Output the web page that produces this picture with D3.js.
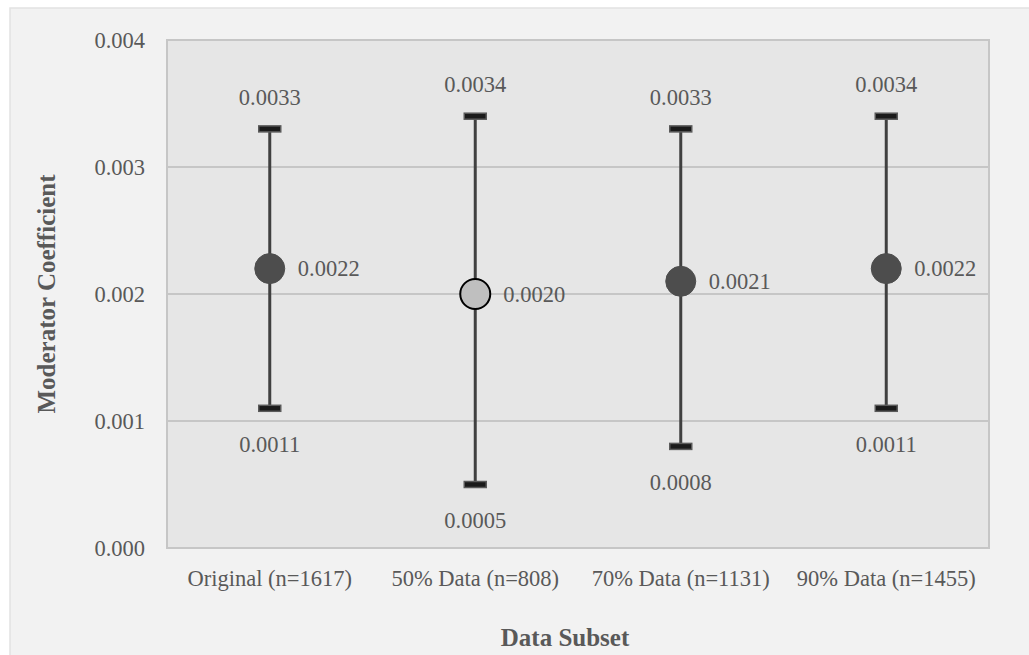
<!DOCTYPE html>
<html>
<head>
<meta charset="utf-8">
<script src="https://cdn.jsdelivr.net/npm/d3@7"></script>
<style>
  html, body { margin: 0; padding: 0; background: #ffffff; overflow: hidden; }
  svg { display: block; }
  text { font-family: "Liberation Serif", "DejaVu Serif", serif; }
</style>
</head>
<body>
<svg id="chart" width="1029" height="655"></svg>
<script>
// Moderator coefficient estimates with confidence bounds per data subset
const categories = ["Original (n=1617)", "50% Data (n=808)", "70% Data (n=1131)", "90% Data (n=1455)"];
const estimates  = [0.0022, 0.0020, 0.0021, 0.0022];
const upperBound = [0.0033, 0.0034, 0.0033, 0.0034];
const lowerBound = [0.0011, 0.0005, 0.0008, 0.0011];
const yTicks     = [0.000, 0.001, 0.002, 0.003, 0.004];
const highlighted = [false, true, false, false];

const svg = d3.select("#chart");
const W = 1029, H = 655;
const plot = { left: 167, top: 40, right: 989, bottom: 548 };
const textColor = "#595959";
const labelSize = 22.5;

// outer panel (runs past the right and bottom edges)
svg.append("rect").attr("x", 10).attr("y", 8).attr("width", W + 20).attr("height", H + 20)
  .attr("fill", "#f2f2f2").attr("stroke", "#e2e2e2").attr("stroke-width", 1.5);

const x = d3.scaleBand().domain(categories).range([plot.left, plot.right]).padding(0);
const y = d3.scaleLinear().domain([0, 0.004]).range([plot.bottom, plot.top]);

// plot background
svg.append("rect")
  .attr("x", plot.left).attr("y", plot.top)
  .attr("width", plot.right - plot.left).attr("height", plot.bottom - plot.top)
  .attr("fill", "#e6e6e6");

// gridlines
svg.append("g").selectAll("line").data(yTicks.slice(1, -1)).join("line")
  .attr("x1", plot.left).attr("x2", plot.right)
  .attr("y1", d => y(d)).attr("y2", d => y(d))
  .attr("stroke", "#c6c6c6").attr("stroke-width", 2);

// plot border
svg.append("rect")
  .attr("x", plot.left).attr("y", plot.top)
  .attr("width", plot.right - plot.left).attr("height", plot.bottom - plot.top)
  .attr("fill", "none").attr("stroke", "#c6c6c6").attr("stroke-width", 2);

// y axis
const yAxis = d3.axisLeft(y).tickValues(yTicks).tickFormat(d3.format(".3f")).tickSize(0).tickPadding(22);
const gy = svg.append("g").attr("transform", `translate(${plot.left},0)`).call(yAxis);
gy.select(".domain").remove();
gy.selectAll("text").attr("font-size", labelSize).attr("fill", textColor)
  .attr("font-family", "Liberation Serif, serif");

// x axis
const xAxis = d3.axisBottom(x).tickSize(0).tickPadding(22);
const gx = svg.append("g").attr("transform", `translate(0,${plot.bottom})`).call(xAxis);
gx.select(".domain").remove();
gx.selectAll("text").attr("font-size", labelSize).attr("fill", textColor)
  .attr("font-family", "Liberation Serif, serif");

// axis titles
svg.append("text")
  .attr("x", 565).attr("y", 646)
  .attr("text-anchor", "middle").attr("font-size", 25).attr("font-weight", "bold")
  .attr("fill", textColor).text("Data Subset");

svg.append("text")
  .attr("transform", `translate(55,${(plot.top + plot.bottom) / 2}) rotate(-90)`)
  .attr("text-anchor", "middle").attr("font-size", 25).attr("font-weight", "bold")
  .attr("fill", textColor).text("Moderator Coefficient");

const rows = categories.map((c, i) => ({
  c, est: estimates[i], hi: upperBound[i], lo: lowerBound[i], hl: highlighted[i]
}));
const cx = d => x(d.c) + x.bandwidth() / 2;
const fmt = d3.format(".4f");

const g = svg.append("g");

// error bar stems
g.selectAll(".stem").data(rows).join("line")
  .attr("x1", cx).attr("x2", cx)
  .attr("y1", d => y(d.hi)).attr("y2", d => y(d.lo))
  .attr("stroke", "#404040").attr("stroke-width", 3);

// caps
const capW = 22, capH = 6;
["hi", "lo"].forEach(k => {
  g.selectAll(".cap-" + k).data(rows).join("rect")
    .attr("x", d => cx(d) - capW / 2).attr("y", d => y(d[k]) - capH / 2)
    .attr("width", capW).attr("height", capH)
    .attr("fill", "#1a1a1a").attr("stroke", "#5a5a5a").attr("stroke-width", 1.5);
});

// estimate markers
g.selectAll(".pt").data(rows).join("circle")
  .attr("cx", cx).attr("cy", d => y(d.est)).attr("r", 15)
  .attr("fill", d => d.hl ? "#bfbfbf" : "#4d4d4d")
  .attr("stroke", d => d.hl ? "#000000" : "#4d4d4d")
  .attr("stroke-width", d => d.hl ? 2 : 1);

// value labels
g.selectAll(".lbl-est").data(rows).join("text")
  .attr("x", d => cx(d) + 28).attr("y", d => y(d.est)).attr("dy", "0.35em")
  .attr("font-size", labelSize).attr("fill", textColor)
  .text(d => fmt(d.est));

g.selectAll(".lbl-hi").data(rows).join("text")
  .attr("x", cx).attr("y", d => y(d.hi) - 32).attr("dy", "0.35em")
  .attr("text-anchor", "middle")
  .attr("font-size", labelSize).attr("fill", textColor)
  .text(d => fmt(d.hi));

g.selectAll(".lbl-lo").data(rows).join("text")
  .attr("x", cx).attr("y", d => y(d.lo) + 36).attr("dy", "0.35em")
  .attr("text-anchor", "middle")
  .attr("font-size", labelSize).attr("fill", textColor)
  .text(d => fmt(d.lo));
</script>
</body>
</html>
